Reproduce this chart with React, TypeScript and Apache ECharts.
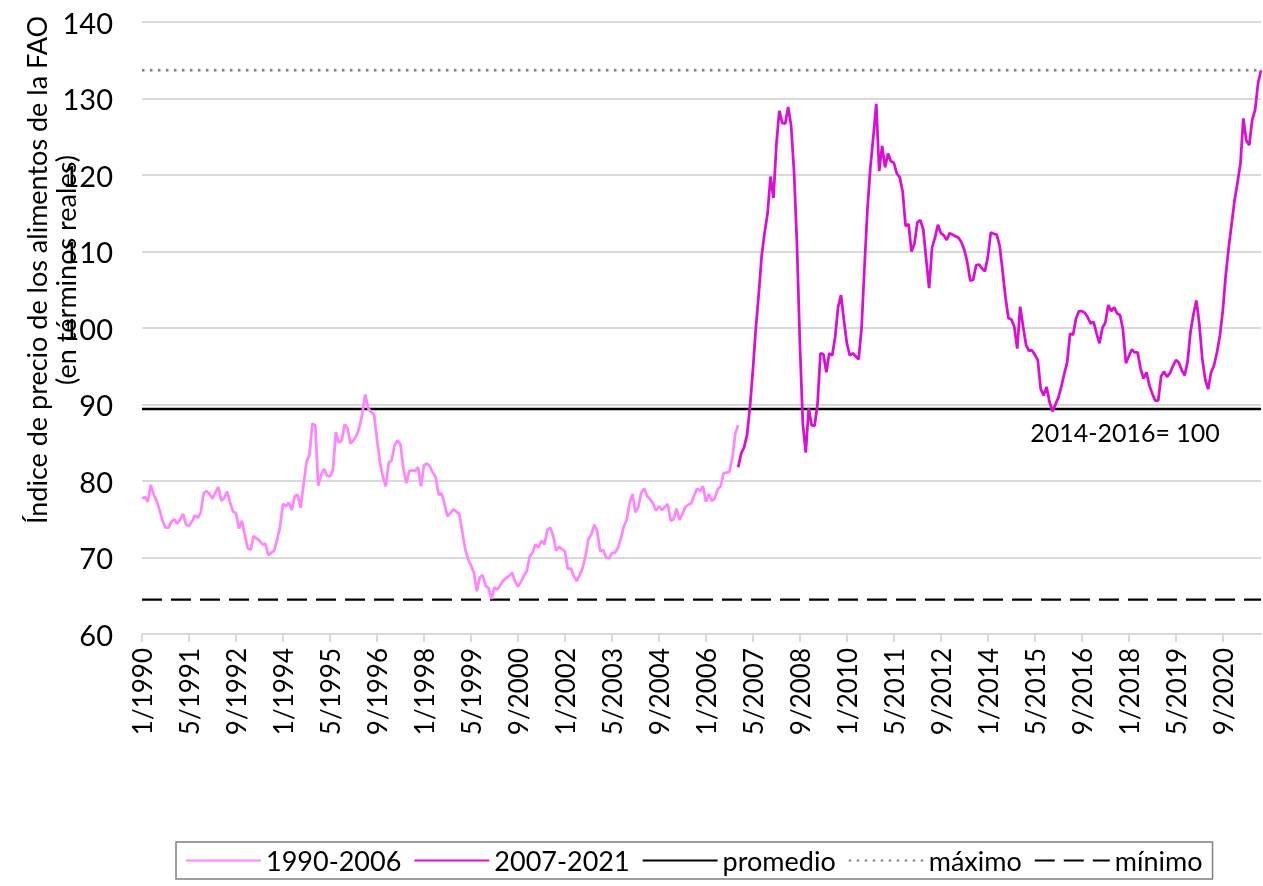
import React, { useEffect, useRef } from "react";
import * as echarts from "echarts";

const START_YEAR = 1990;
const MONTH_COUNT = 382; // 1/1990 .. 10/2021

// FAO real food price index, 1990-2006 (monthly, from 1/1990)
const series1990_2006: number[] = [
  77.7, 77.9, 77.3, 79.5, 78.2, 77.4, 76.2, 74.8, 73.9, 73.9,
  74.7, 75.0, 74.4, 75.0, 75.7, 74.3, 74.1, 74.7, 75.5, 75.2,
  75.9, 78.4, 78.7, 78.3, 77.7, 78.5, 79.2, 77.4, 77.8, 78.6,
  77.2, 76.0, 75.8, 73.8, 74.8, 73.0, 71.2, 71.0, 72.8, 72.5,
  72.2, 71.7, 71.8, 70.3, 70.6, 70.9, 72.3, 74.0, 77.0, 76.7,
  77.2, 76.2, 78.0, 78.2, 76.5, 79.5, 82.5, 83.4, 87.5, 87.3,
  79.4, 80.8, 81.6, 80.7, 80.6, 81.4, 86.4, 85.0, 85.3, 87.4,
  86.9, 84.9, 85.3, 85.9, 87.0, 88.8, 91.3, 89.5, 89.0, 88.7,
  85.5, 82.5, 80.6, 79.3, 82.4, 82.7, 84.7, 85.3, 84.8, 81.6,
  79.7, 81.3, 81.4, 81.3, 81.8, 79.3, 82.0, 82.3, 81.9, 81.1,
  80.5, 78.2, 78.4, 77.0, 75.4, 75.8, 76.3, 76.0, 75.7, 73.5,
  71.2, 69.8, 69.0, 68.0, 65.6, 67.4, 67.7, 66.3, 66.0, 64.6,
  66.1, 65.8, 66.4, 67.0, 67.3, 67.6, 68.0, 66.9, 66.2, 66.8,
  67.6, 68.2, 70.1, 70.7, 71.7, 71.3, 72.2, 71.7, 73.6, 73.9,
  72.8, 70.9, 71.4, 71.1, 70.8, 68.5, 68.6, 67.6, 66.9, 67.7,
  68.6, 70.2, 72.4, 73.0, 74.3, 73.4, 70.8, 71.0, 70.0, 69.9,
  70.6, 70.6, 71.2, 72.4, 74.0, 74.9, 77.1, 78.3, 75.9, 76.6,
  78.5, 79.0, 78.0, 77.6, 77.1, 76.1, 76.7, 76.2, 76.6, 77.0,
  74.8, 75.0, 76.4, 74.9, 75.7, 76.6, 76.9, 77.1, 78.1, 79.0,
  78.7, 79.3, 77.3, 78.3, 77.4, 77.7, 78.9, 79.3, 81.0, 81.1,
  81.2, 83.0, 86.2, 87.3,
];

// FAO real food price index, 2007-2021 (monthly, ending 10/2021)
const series2007_2021: number[] = [
  81.8, 83.6, 84.4, 86.0, 89.7, 94.5, 100.0, 104.5, 109.5, 112.5,
  115.0, 119.8, 117.0, 124.0, 128.4, 126.8, 126.7, 128.9, 126.5, 120.5,
  111.0, 98.0, 87.5, 83.7, 89.5, 87.3, 87.2, 90.0, 96.7, 96.6,
  94.2, 96.7, 96.4, 98.8, 102.7, 104.3, 101.0, 98.0, 96.4, 96.7,
  96.3, 95.9,
  100.0, 108.0, 115.5, 121.0, 125.0, 129.3, 120.5, 123.8, 121.0, 122.8,
  121.8, 121.6, 120.2, 119.7, 117.8, 113.3, 113.6, 110.0, 111.0, 113.8,
  114.1, 112.9, 109.0, 105.2, 110.5, 111.8, 113.5, 112.4, 112.1, 111.5,
  112.4, 112.2, 112.0, 111.8, 111.2, 110.2, 108.6, 106.2, 106.3, 108.2,
  108.3, 107.8, 107.4, 109.3,
  112.5, 112.3, 112.2, 110.8, 107.5, 104.0, 101.3, 101.1, 100.2, 97.3,
  102.8, 100.2, 97.8, 97.0, 97.1, 96.5, 95.8, 92.0, 91.2, 92.3,
  90.3, 89.1, 90.0, 90.9, 92.3, 94.0, 95.5, 99.3, 99.1, 101.2,
  102.2, 102.2, 102.0, 101.4, 100.6, 100.8, 99.3, 98.0, 100.0, 100.7,
  103.0, 102.2, 102.7, 101.9, 101.7, 99.8, 95.4, 96.3, 97.2, 96.8,
  96.8, 94.7, 93.4, 94.2, 92.5, 91.4, 90.5, 90.5, 93.7, 94.3,
  93.6, 94.1, 95.0, 95.8, 95.5, 94.5, 93.8, 95.6, 99.5, 101.8,
  103.6, 100.5, 96.0, 93.3, 92.0, 94.2, 95.1, 96.8, 99.0, 102.3,
  106.9, 110.5, 113.6, 116.7, 119.0, 121.5, 127.4, 124.5, 123.9, 127.2,
  128.5, 132.0, 133.7,
];

const PROMEDIO = 89.4;
const MAXIMO = 133.7;
const MINIMO = 64.5;

const seriesNames = ["1990-2006", "2007-2021", "promedio", "máximo", "mínimo"];
const yAxisTitle = "Índice de precio de los alimentos de la FAO\n(en términos reales)";
const baseNote = "2014-2016= 100";

const categories: string[] = [];
for (let i = 0; i < MONTH_COUNT; i++) {
  const month = (i % 12) + 1;
  const year = START_YEAR + Math.floor(i / 12);
  categories.push(`${month}/${year}`);
}

const FONT = "Lato, 'Open Sans', sans-serif";

export default function App() {
  const ref = useRef<HTMLDivElement>(null);

  useEffect(() => {
    document.body.style.margin = "0";
    if (!ref.current) return;
    const chart = echarts.init(ref.current, null, { renderer: "svg" });

    const n = categories.length;
    const d1: (number | null)[] = categories.map((_, i) =>
      i < series1990_2006.length ? series1990_2006[i] : null
    );
    const off2 = n - series2007_2021.length;
    const d2: (number | null)[] = categories.map((_, i) =>
      i >= off2 ? series2007_2021[i - off2] : null
    );
    const dProm = categories.map(() => PROMEDIO);
    const dMax = categories.map(() => MAXIMO);
    const dMin = categories.map(() => MINIMO);

    chart.setOption({
      animation: false,
      textStyle: { fontFamily: FONT },
      grid: { left: 142, right: 2, top: 22, bottom: 252, containLabel: false },
      xAxis: {
        type: "category",
        data: categories,
        boundaryGap: false,
        axisLine: { lineStyle: { color: "#d9d9d9", width: 2 } },
        axisTick: { show: true, interval: 15, length: 8, lineStyle: { color: "#d9d9d9", width: 2 } },
        axisLabel: {
          interval: 15,
          rotate: 90,
          margin: 14,
          fontSize: 26,
          color: "#000",
          fontFamily: FONT,
        },
        splitLine: { show: false },
      },
      yAxis: {
        type: "value",
        min: 60,
        max: 140,
        interval: 10,
        axisLine: { show: false },
        axisTick: { show: false },
        axisLabel: { fontSize: 29, color: "#000", margin: 29, fontFamily: FONT },
        splitLine: { lineStyle: { color: "#d9d9d9", width: 2 } },
      },
      legend: {
        data: seriesNames,
        left: 176,
        top: 842,
        padding: [5, 10, 5, 9],
        borderColor: "#808080",
        borderWidth: 1.5,
        itemWidth: 75,
        itemHeight: 14,
        itemGap: 12,
        itemStyle: { opacity: 0 },
        textStyle: { fontSize: 27, color: "#000", fontFamily: FONT },
      },
      graphic: [
        {
          type: "text",
          x: 51,
          y: 270,
          rotation: Math.PI / 2,
          style: {
            text: yAxisTitle,
            fontSize: 27,
            fontFamily: FONT,
            fill: "#000",
            align: "center",
            verticalAlign: "middle",
            lineHeight: 29,
          },
        },
        {
          type: "text",
          x: 1125,
          y: 432,
          style: {
            text: baseNote,
            fontSize: 25,
            fontFamily: FONT,
            fill: "#000",
            align: "center",
            verticalAlign: "middle",
          },
        },
      ],
      series: [
        {
          name: seriesNames[0],
          type: "line",
          data: d1,
          symbol: "none",
          lineStyle: { color: "#ff85ff", width: 2.75 },
          itemStyle: { color: "#ff85ff" },
          z: 3,
        },
        {
          name: seriesNames[1],
          type: "line",
          data: d2,
          symbol: "none",
          lineStyle: { color: "#d90fd4", width: 2.75 },
          itemStyle: { color: "#d90fd4" },
          z: 4,
        },
        {
          name: seriesNames[2],
          type: "line",
          data: dProm,
          symbol: "none",
          lineStyle: { color: "#000", width: 2.5 },
          itemStyle: { color: "#000" },
          z: 2,
        },
        {
          name: seriesNames[3],
          type: "line",
          data: dMax,
          symbol: "none",
          lineStyle: { color: "#808080", width: 2.5, type: [2.5, 5.5] },
          itemStyle: { color: "#808080" },
          z: 2,
        },
        {
          name: seriesNames[4],
          type: "line",
          data: dMin,
          symbol: "none",
          lineStyle: { color: "#000", width: 2.25, type: [20, 9] },
          itemStyle: { color: "#000" },
          z: 2,
        },
      ],
    });

    return () => chart.dispose();
  }, []);

  return (
    <div
      ref={ref}
      style={{ position: "fixed", left: 0, top: 0, width: 1263, height: 886 }}
    />
  );
}
